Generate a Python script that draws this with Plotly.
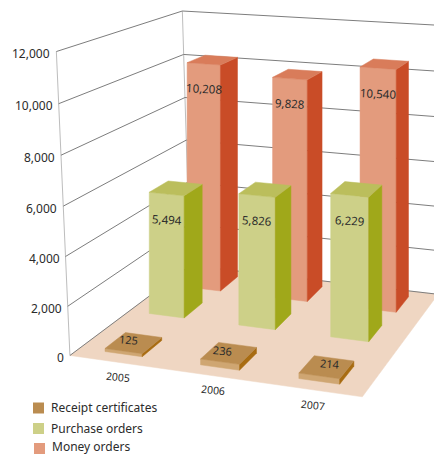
import numpy as np
import plotly.graph_objects as go

# ---- data ----
years = ["2005", "2006", "2007"]
series_names = ["Receipt certificates", "Purchase orders", "Money orders"]
receipt_certificates = [125, 236, 214]
purchase_orders = [5494, 5826, 6229]
money_orders = [10208, 9828, 10540]
value_ticks = [0, 2000, 4000, 6000, 8000, 10000, 12000]
value_max = 12000

# ---- styling ----
W, H = 434, 454
FONT = "Noto Sans"
TEXT = "#2b2b2b"
GRID = "#7d7d7d"
EDGE = "#bdbdbd"
FLOOR = "#efd6c2"
face_colors = [
    dict(front="#cfa672", top="#ba8c50", side="#a86c12"),
    dict(front="#cdd088", top="#bbbe5c", side="#a0a81a"),
    dict(front="#e39b7d", top="#d97c5a", side="#c94c27"),
]
bar_w = 0.135
bar_d = [0.155, 0.165, 0.175]
column_centre = [0.170, 0.512, 0.848]
row_shift = [-0.010, -0.025, -0.012]
row_front = [0.07, 0.45, 0.76]
row_rise = [1.0, 0.96, 0.995]
base_label_dx = [-5, -6, 3]

# ---- camera calibration: unit chart box -> page pixels ----
calib = [
    ((0, 0, 0), (68, 354)), ((1, 0, 0), (364, 396)),
    ((0, 1, 0), (191, 265)), ((1, 1, 0), (438, 296)),
    ((0, 0, 1), (57, 52)), ((0, 1, 1), (182, 10)), ((1, 1, 1), (438, 25)),
    ((0, 0, .5), (63, 208)), ((0, 1, .5), (187, 141)), ((1, 1, .5), (436, 161)),
]
A, b = [], []
for (x, y, z), (u, v) in calib:
    A.append([x, y, z, 1, 0, 0, 0, 0, -u * x, -u * y, -u * z]); b.append(u)
    A.append([0, 0, 0, 0, x, y, z, 1, -v * x, -v * y, -v * z]); b.append(v)
P = np.append(np.linalg.lstsq(np.array(A, float), np.array(b, float), rcond=None)[0], 1).reshape(3, 4)


def proj(x, y, z):
    q = P @ np.array([x, y, z, 1.0])
    return q[0] / q[2], q[1] / q[2]


def bar_proj(x, y, z):
    # bars stand upright on the page: x from the footprint, y from the height
    return proj(x, y, 0)[0], proj(x, y, z)[1]


fig = go.Figure()


def poly(points, color, pf=proj):
    pts = [pf(*p) for p in points]
    pts.append(pts[0])
    fig.add_trace(go.Scatter(x=[p[0] for p in pts], y=[p[1] for p in pts], mode="lines", fill="toself",
                             fillcolor=color, line=dict(color=color, width=0.5),
                             hoverinfo="skip", showlegend=False))


def line(points, color, width=1):
    pts = [proj(*p) for p in points]
    fig.add_trace(go.Scatter(x=[p[0] for p in pts], y=[p[1] for p in pts], mode="lines",
                             line=dict(color=color, width=width), hoverinfo="skip", showlegend=False))


annotations = []


def label(text, pos, size, angle=0, xanchor="center", dx=0, dy=0, pf=proj):
    x, y = pf(*pos)
    annotations.append(dict(x=x, y=y, xref="x", yref="y", text=text, showarrow=False, xanchor=xanchor,
                            yanchor="middle", xshift=dx, yshift=-dy, textangle=angle,
                            font=dict(family=FONT, size=size, color=TEXT)))


# floor, walls
poly([(0, 0, 0), (1, 0, 0), (1, 1, 0), (0, 1, 0)], FLOOR)
line([(0, 0, 0), (0, 0, 1)], EDGE)
line([(0, 1, 0), (0, 1, 1)], EDGE)
for t in value_ticks:
    z = t / value_max
    line([(0, 0, z), (0, 1, z), (1, 1, z)], GRID, 1)
    label(f"{t:,}", (0, 0, z), 12, xanchor="right", dx=-4, dy=2)

# bars, back row first
all_series = [receipt_certificates, purchase_orders, money_orders]
for s in (2, 1, 0):
    c = face_colors[s]
    for i, val in enumerate(all_series[s]):
        u0 = column_centre[i] + row_shift[s] - bar_w / 2
        u1 = u0 + bar_w
        v0 = row_front[s]
        v1 = v0 + bar_d[s]
        z = val / value_max * row_rise[s]
        poly([(u0, v0, 0), (u1, v0, 0), (u1, v0, z), (u0, v0, z)], c["front"], bar_proj)
        poly([(u1, v0, 0), (u1, v1, 0), (u1, v1, z), (u1, v0, z)], c["side"], bar_proj)
        poly([(u0, v0, z), (u1, v0, z), (u1, v1, z), (u0, v1, z)], c["top"], bar_proj)
        if s == 0:
            label(f"{val:,}", ((u0 + u1) / 2, (v0 + v1) / 2, z), 11, angle=5, dx=base_label_dx[i], dy=-3, pf=bar_proj)
        else:
            label(f"{val:,}", ((u0 + u1) / 2, v0, z), 11.5, angle=3, dy=25, pf=bar_proj)

# category labels under the front edge
for i, y in enumerate(years):
    label(y, ((i + 0.5) / 3, 0, 0), 10.5, angle=6, dx=2, dy=15)

# key
key_x = [38.5, 38.5, 39.5]
key_y = [408, 428.5, 448.5]
for name, kx, ky, c in zip(series_names, key_x, key_y, face_colors):
    swatch = c["top"] if c is face_colors[0] else c["front"]
    fig.add_trace(go.Scatter(x=[kx], y=[ky], mode="markers", name=name,
                             marker=dict(symbol="square", size=11, color=swatch),
                             hoverinfo="skip", showlegend=False))
    annotations.append(dict(x=kx + 10.5, y=min(ky - 0.5, 446), xref="x", yref="y", text=name, showarrow=False,
                            xanchor="left", yanchor="middle", font=dict(family=FONT, size=12, color=TEXT)))

fig.update_layout(
    width=W, height=H, margin=dict(l=0, r=0, t=0, b=0),
    paper_bgcolor="white", plot_bgcolor="white", showlegend=False,
    xaxis=dict(range=[0, W], visible=False, fixedrange=True),
    yaxis=dict(range=[H, 0], visible=False, fixedrange=True),
    annotations=annotations,
)
fig.write_html("out.html", config=dict(displayModeBar=False),
               post_script="document.body.style.margin='0';")
